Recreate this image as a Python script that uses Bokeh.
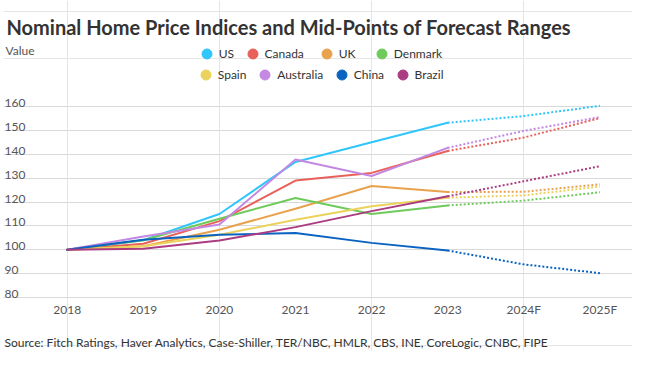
from bokeh.plotting import figure
from bokeh.models import Range1d, FixedTicker, Grid, Legend, LegendItem, Label
from bokeh.core.properties import value
from bokeh.embed import file_html
from bokeh.resources import INLINE

# ---------------- data ----------------
years = ["2018", "2019", "2020", "2021", "2022", "2023", "2024F", "2025F"]
us        = [100, 104.0, 115.0, 136.8, 145.0, 153.2, 156.0, 160.3]
canada    = [100, 102.5, 112.0, 129.0, 132.2, 141.4, 147.0, 155.2]
uk        = [100, 101.5, 108.4, 117.2, 126.7, 124.2, 124.3, 127.4]
denmark   = [100, 104.0, 113.0, 121.7, 115.0, 118.6, 120.6, 124.1]
spain     = [100, 101.5, 106.3, 112.6, 118.2, 121.8, 122.8, 126.5]
australia = [100, 105.6, 110.6, 137.8, 130.9, 142.7, 149.8, 155.6]
china     = [100, 104.2, 106.3, 107.0, 102.9, 99.7, 93.9, 90.2]
brazil    = [100, 100.4, 103.9, 109.5, 116.2, 122.4, 128.7, 135.0]

series_names = ["US", "Canada", "UK", "Denmark", "Spain", "Australia", "China", "Brazil"]
series_values = [us, canada, uk, denmark, spain, australia, china, brazil]
series_colors = ["#2fc6fb", "#e9605a", "#e8a24d", "#6fca5c",
                 "#ebd25c", "#c288e2", "#0b63c1", "#ab3c82"]

y_ticks = [80, 90, 100, 110, 120, 130, 140, 150, 160]
y_tick_labels = [str(t) for t in y_ticks]
last_actual = years.index("2023")

title_text = "Nominal Home Price Indices and Mid-Points of Forecast Ranges"
y_title = "Value"
source_text = ("Source: Fitch Ratings, Haver Analytics, Case-Shiller, TER/NBC, HMLR, "
               "CBS, INE, CoreLogic, CNBC, FIPE")

# ---------------- layout ----------------
W, H = 632, 351
border_left = 3
frame_w = W - border_left
frame_h = H
px_year = 76.1
first_x = 66.7 - border_left          # first category, relative to frame left
x_start = -first_x / px_year
x_end = (frame_w - first_x) / px_year
px_unit = 2.388
y100 = 249.3
y_end = 100 + y100 / px_unit
y_start = 100 - (frame_h - y100) / px_unit

FONT = "Lato"

p = figure(width=W, height=H, title=None,
           x_range=Range1d(x_start, x_end), y_range=Range1d(y_start, y_end),
           output_backend="svg", toolbar_location=None,
           x_axis_location=None, y_axis_location=None,
           min_border_left=border_left, min_border_right=0,
           min_border_top=0, min_border_bottom=0,
           outline_line_color=None, background_fill_color="white",
           border_fill_color="white")

p.add_layout(Grid(dimension=1, ticker=FixedTicker(ticks=y_ticks),
                  grid_line_color="#d9d9d9", grid_line_width=1))

xs = list(range(len(years)))
for name, vals, col in zip(series_names, series_values, series_colors):
    p.line(xs[:last_actual + 1], vals[:last_actual + 1], line_color=col,
           line_width=2, line_join="round", line_cap="round")
    p.line(xs[last_actual:], vals[last_actual:], line_color=col,
           line_width=2, line_dash="2 2")

# y tick labels, left aligned above the grid lines
p.text(x=[x_start] * len(y_ticks), y=y_ticks, text=y_tick_labels,
       text_font=value(FONT), text_font_size=value("12px"), text_color="#555555",
       text_align="left", text_baseline="alphabetic", x_offset=1, y_offset=-3.5)

# x tick labels below the lowest grid line
p.text(x=xs, y=[y_ticks[0]] * len(xs), text=years,
       text_font=value(FONT), text_font_size=value("12px"), text_color="#555555",
       text_align="center", text_baseline="middle", y_offset=12)

# legend (one small legend per entry, arranged like the reference)
legend_centers = [(206.2, 53.3), (252.0, 53.3), (326.3, 53.3), (381.3, 53.3),
                  (205.3, 74.0), (264.7, 74.0), (341.3, 74.0), (402.0, 74.0)]
for name, col, (cx, cy) in zip(series_names, series_colors, legend_centers):
    r = p.scatter(x=[float("nan")], y=[float("nan")], size=10,
                  fill_color=col, line_color=col)
    leg = Legend(items=[LegendItem(label=name, renderers=[r])],
                 location=(cx - 12.5 - border_left, frame_h - (cy + 12.5)),
                 orientation="vertical", padding=0, margin=0, spacing=0,
                 glyph_width=25, glyph_height=25, label_standoff=-4,
                 label_text_font=FONT, label_text_font_size="12px",
                 label_text_color="#333333", border_line_color=None,
                 background_fill_alpha=0)
    p.add_layout(leg)

p.add_layout(Label(x=3, y=frame_h - 26, x_units="screen", y_units="screen",
                   text=title_text, text_font=FONT, text_font_style="bold",
                   text_font_size="20px", text_color="#333333",
                   text_baseline="alphabetic"))
p.add_layout(Label(x=2, y=frame_h - 50, x_units="screen", y_units="screen",
                   text=y_title, text_font=FONT, text_font_size="12px",
                   text_color="#555555", text_baseline="alphabetic"))
p.add_layout(Label(x=1, y=9, x_units="screen", y_units="screen",
                   text=source_text, text_font=FONT, text_font_size="12px",
                   text_color="#333333", text_baseline="alphabetic"))

open("out.html", "w").write(file_html(p, INLINE))
